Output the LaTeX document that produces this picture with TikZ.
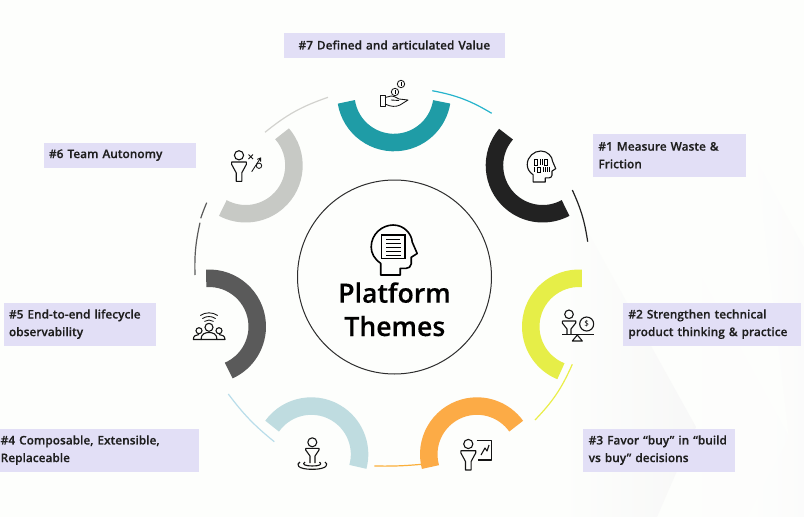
\documentclass[tikz,border=0pt]{standalone}
\usepackage{fontspec}
\setmainfont{Open Sans}[FontFace={sb}{n}{Font=* Semibold,RawFeature={embolden=0.25}}]
\usetikzlibrary{calc,arrows.meta}
\definecolor{bgc}{HTML}{FDFEFC}
\definecolor{lab}{HTML}{E2DFF6}
\definecolor{cteal}{HTML}{1F9CA6}
\definecolor{cblack}{HTML}{222222}
\definecolor{cyel}{HTML}{E6EE48}
\definecolor{corg}{HTML}{FCAB46}
\definecolor{clb}{HTML}{BFDCE0}
\definecolor{cdg}{HTML}{5A5A5A}
\definecolor{clg}{HTML}{C7C9C5}
\definecolor{tteal}{HTML}{25B4CC}
\definecolor{tyel}{HTML}{EAEE48}
\definecolor{torg}{HTML}{FBAF3A}
\definecolor{tlb}{HTML}{B9DDEA}
\definecolor{tlg}{HTML}{D2D2CE}
\tikzset{
 ring/.style={line width=17.5pt,draw=#1},
 thinarc/.style={line width=1.2pt,draw=#1},
 labelbox/.style={fill=lab,inner ysep=0pt,inner xsep=5.5pt,anchor=north west,text=black!88,align=left,font=\fontsize{11.9pt}{17.6pt}\fontseries{sb}\selectfont},
 hubtext/.style={anchor=base,inner sep=0pt,font=\fontsize{26.6pt}{34pt}\fontseries{sb}\selectfont},
 ic/.style={line width=1.1pt,draw=black!92,fill=none,line join=round},
 icf/.style={line width=0.85pt,draw=black!92,fill=none,line join=round}
}
\newcommand{\ringarc}[5]{\draw[ring=#1] (#2,#3) ++(#4:48.25) arc[start angle=#4,end angle=#5,radius=48.25];}
% funnel-shaped person: #1,#2 head centre
\newcommand{\personicon}[2]{%
 \begin{scope}[shift={(#1,#2)}]
 \draw[ic] (0,0) circle[radius=4.6];
 \draw[ic] (-7.4,6.7) -- (7.4,6.7) -- (7.4,9) -- (2.8,17.5) -- (2.8,26) -- (-2.8,26) -- (-2.8,17.5) -- (-7.4,9) -- cycle;
 \end{scope}}
\newcommand{\headpath}{(-13.5,25) -- (-13.5,13.3) .. controls (-20,9) and (-23,3) .. (-23,-3) .. controls (-23,-16) and (-12,-25) .. (-1,-25) .. controls (10,-25) and (17.5,-16) .. (18,-8) -- (23,3.5) -- (17,7.3) -- (17,14) .. controls (17,17) and (14,18.3) .. (12,18.3) -- (6,18.3) -- (6,25) -- cycle}
\begin{document}
\begin{tikzpicture}[x=1pt,y=-1pt]
\useasboundingbox (0,0) rectangle (804,517);
\fill[bgc] (0,0) rectangle (804,517);
% faint chevrons
\shade[left color=bgc,right color=black!1.5] (757,162) -- (804,248) -- (804,517) -- (747,517) -- (789,437) -- cycle;
\shade[left color=bgc,right color=black!1] (660,202) -- (789,437) -- (747,517) -- (660,517) -- cycle;
\shade[left color=bgc,right color=black!3] (571,202) -- (696,427) -- (657,517) -- (560,517) -- (560,202) -- cycle;
% thick rings
\ringarc{cteal}{394}{94.3}{171}{9}
\ringarc{cblack}{542.7}{165.5}{220.5}{61.7}
\ringarc{cyel}{579}{326.5}{273.4}{112}
\ringarc{corg}{477}{454.3}{164.7}{324.3}
\ringarc{clb}{311.3}{454.3}{215.7}{375.1}
\ringarc{cdg}{209}{326.5}{-93.3}{65.9}
\ringarc{clg}{245.7}{165.5}{-41.1}{118.3}
% thin arcs
\draw[thinarc=tlg] (265,132.3) to[bend left=10] (328,97.3);
\draw[thinarc=tteal] (432.3,90.7) to[bend left=10] (491.7,113.3);
\draw[thinarc=cblack] (572.3,190) to[bend left=8] (587.7,241.7);
\draw[thinarc=tyel] (572.3,364.3) to[bend left=10] (535,420);
\draw[thinarc=torg] (421.7,464.3) to[bend left=3] (374.3,466);
\draw[thinarc=tlb] (274.3,441.7) to[bend left=7] (228.3,394);
\draw[thinarc=cdg] (195,275) to[bend left=7] (200,222.7);
\draw[thinarc=cdg] (200.7,218.3) to[bend left=2] (206.7,202.7);
% centre
\node[circle,draw=black!82,line width=1pt,minimum size=194pt,inner sep=0pt] (hub) at (394.5,277) {};
\begin{scope}[shift={(394.2,250)}]
 \draw[line width=1.6pt,draw=black,line join=round] \headpath;
 \draw[line width=1.2pt] (-12.5,-15) rectangle (10.8,8.3);
 \draw[line width=1pt] (-8,-11) -- (6,-11) (-8,-7) -- (6.5,-7) (-8,-3) -- (6.5,-3) (-8,1) -- (6.5,1) (-8,5) -- (6.5,5);
\end{scope}
\node[hubtext] (t1) at (394.5,302.7) {Platform};
\node[hubtext] (t2) at (394.8,336) {Themes};
% labels
\node[labelbox,text width=209.3pt,minimum height=25pt,align=center] (l7) at (284,32.3) {\#7 Defined and articulated Value};
\node[labelbox,text width=141.6pt,minimum height=43.4pt] (l1) at (592.7,133.3) {\#1 Measure Waste \&\\Friction};
\node[labelbox,text width=167pt,minimum height=43.4pt] (l2) at (622.7,302.3) {\#2 Strengthen technical\\product thinking \& practice};
\node[labelbox,text width=141pt,minimum height=43.4pt] (l3) at (583,428.3) {\#3 Favor “buy” in “build\\vs buy” decisions};
\node[labelbox,text width=198pt,inner xsep=0.5pt,minimum height=43.4pt] (l4) at (0,428.3) {\#4 Composable, Extensible,\\Replaceable};
\node[labelbox,text width=141.4pt,minimum height=43.4pt] (l5) at (3.3,302.3) {\#5 End-to-end lifecycle\\observability};
\node[labelbox,text width=141.4pt,minimum height=25.4pt] (l6) at (43.3,142.3) {\#6 Team Autonomy};
% icon 7: hand and coins
\draw[icf] (380,95) rectangle (385,106);
\draw[icf] (385,97.5) -- (391,96) .. controls (395,96) and (397,98.5) .. (399,99) -- (408,100) -- (400,105) .. controls (396,107) and (391,107) .. (385,104);
\draw[icf] (391,100) -- (399,100.5);
\draw[icf] (395,92) circle[radius=3.7] (401,84) circle[radius=3.7];
\draw[line width=.6pt] (395,90.3) -- (395,93.7) (401,82.3) -- (401,85.7);
% icon 1: head with binary digits
\begin{scope}[shift={(541.5,166.5)},scale=0.62]
 \draw[ic] \headpath;
\end{scope}
\draw[line width=.8pt] (534,159) rectangle (537,165) (544.5,159) rectangle (547.5,165);
\draw[line width=1pt] (540,159) -- (540,165) (542,159) -- (542,165);
\draw[line width=1pt] (534.5,167) -- (534.5,172) (543,167) -- (543,172) (545,167) -- (545,172) (547,167) -- (547,172) (549,167) -- (549,172);
\draw[line width=.8pt] (537,167) rectangle (540.5,172);
% icon 2: person on balance
\draw[ic] (569,314.3) circle[radius=4.3];
\draw[ic] (562.3,321) -- (575.7,321) -- (575.7,323) -- (571,329) -- (571,334.3) (562.3,321) -- (562.3,323) -- (567,329) -- (567,334.3);
\draw[ic] (562.3,334.5) -- (594,334.5);
\draw[ic] (577.3,335) -- (572.3,341) -- (582.3,341) -- cycle;
\draw[ic] (586.7,324) circle[radius=7];
\node[inner sep=0pt,font=\fontsize{8pt}{8pt}\selectfont] (dollar) at (586.7,324) {\$};
% icon 3: person and chart
\personicon{468.3}{444}
\draw[ic] (476.7,440.7) -- (491.7,440.7) -- (491.7,460) -- (478,460);
\draw[ic] (481,455) -- (485,448) -- (487,451) -- (489,445);
% icon 4: person on target
\draw[ic] (312.3,442.3) circle[radius=4.5];
\draw[ic] (305.7,448.3) -- (319,448.3) -- (319,450) -- (315,456) -- (315,463) (305.7,448.3) -- (305.7,450) -- (310,456) -- (310,463);
\draw[ic] (300,462) .. controls (296,464) and (296.5,469.3) .. (312.3,469.3) .. controls (328,469.3) and (328.5,464) .. (325,462);
\draw[ic] (305,462) .. controls (301,464.5) and (306,466) .. (312.3,466) .. controls (319,466) and (323,464.5) .. (319.5,462);
% icon 5: group with signal
\draw[ic] (209,327.3) circle[radius=4];
\draw[ic] (199,330.7) circle[radius=3];
\draw[ic] (219,330.7) circle[radius=3];
\draw[ic] (201,339.5) .. controls (201,334) and (205,332.5) .. (209,332.5) .. controls (213,332.5) and (217,334) .. (217,339.5) -- cycle;
\draw[ic] (201,339.5) -- (193.3,339.5) .. controls (193.3,336) and (196,334.5) .. (199,334.5);
\draw[ic] (217,339.5) -- (225,339.5) .. controls (225,336) and (222,334.5) .. (219,334.5);
\foreach \r in {8,11.5,15.2} {\draw[icf] (209,328) ++(235:\r) arc[start angle=235,end angle=305,radius=\r];}
% icon 6: person and play
\personicon{239}{155.3}
\draw[icf] (248.5,154.5) -- (253,159) (253,154.5) -- (248.5,159);
\draw[icf,-{Straight Barb[length=3pt,width=4pt]}] (251.7,171.7) -- (261,157.3);
\draw[icf] (259,165.7) circle[radius=2.7];
\end{tikzpicture}
\end{document}
